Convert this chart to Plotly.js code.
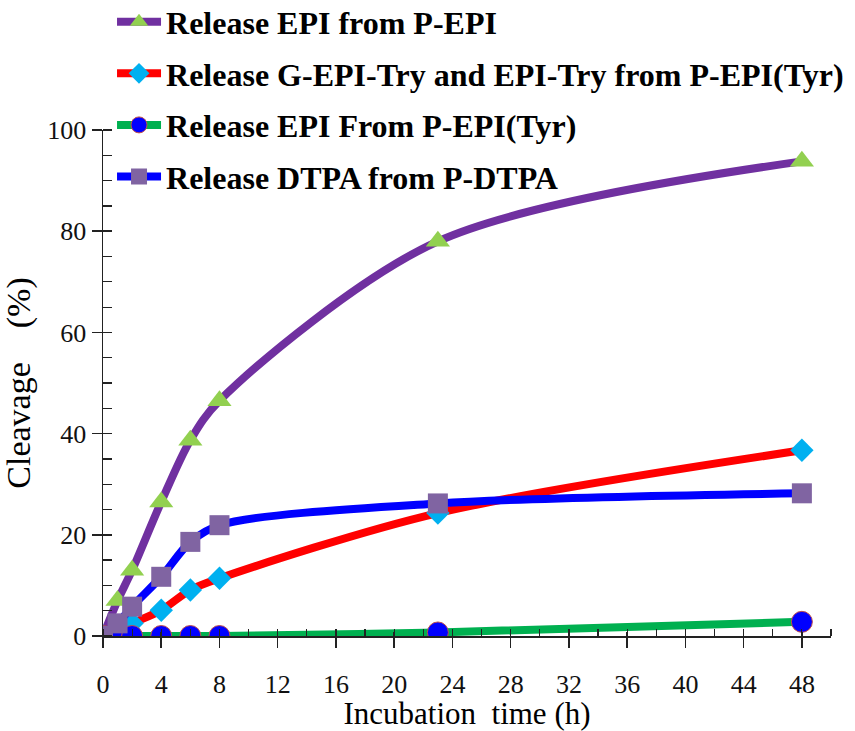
<!DOCTYPE html>
<html>
<head>
<meta charset="utf-8">
<script src="https://cdn.plot.ly/plotly-3.0.1.min.js"></script>
<style>html,body{margin:0;padding:0;background:#fff;}#chart{width:855px;height:731px;}</style>
</head>
<body>
<div id="chart"></div>
<script>
// Data
const timeH = [0, 1, 2, 4, 6, 8, 23, 48];
const epiFromPEpi = [0, 7, 13, 26.5, 38.7, 46.5, 78, 93.8];
const gEpiTryFromPEpiTyr = [0, 1, 2.5, 5.1, 9.1, 11.4, 24.3, 36.7];
const epiFromPEpiTyr = [0, 0, 0, 0, 0, 0, 0.7, 2.8];
const dtpaFromPDtpa = [0, 2.5, 5.8, 11.7, 18.6, 21.9, 26.2, 28.2];
const seriesNames = [
  "Release\u00a0EPI from P-EPI",
  "Release\u00a0G-EPI-Try and EPI-Try from P-EPI(Tyr)",
  "Release\u00a0EPI From P-EPI(Tyr)",
  "Release\u00a0DTPA from P-DTPA"
];
const xTickVals = [0, 4, 8, 12, 16, 20, 24, 28, 32, 36, 40, 44, 48];
const yTickVals = [0, 20, 40, 60, 80, 100];

const FONT = "Liberation Serif, Times New Roman, serif";

function tr(y, name, lineColor, sym, mColor, mSize, mLine, grp) {
  return {
    x: timeH, y: y, name: name, type: "scatter", mode: "lines+markers",
    line: {color: lineColor, width: 8, shape: "spline", smoothing: 0.9},
    marker: {symbol: sym, color: mColor, size: mSize, line: mLine},
    legendgroup: grp
  };
}

const data = [
  tr(epiFromPEpi, seriesNames[0], "#7030A0", "triangle-up", "#92D050", 21, {width: 0}, "g1"),
  tr(gEpiTryFromPEpiTyr, seriesNames[1], "#FF0000", "diamond", "#00B0F0", 18, {width: 0}, "g2"),
  tr(epiFromPEpiTyr, seriesNames[2], "#00B050", "circle", "#0000FF", 21, {width: 1, color: "#C0504D"}, "g3"),
  tr(dtpaFromPDtpa, seriesNames[3], "#0000FF", "square", "#8064A2", 20, {width: 0}, "g4"),
  {x: [], y: [], xaxis: "x2", yaxis: "y2", showlegend: false, hoverinfo: "skip"}
];

const layout = {
  width: 855, height: 731,
  margin: {l: 103, r: 24, t: 130, b: 95, autoexpand: false},
  paper_bgcolor: "#fff", plot_bgcolor: "rgba(0,0,0,0)",
  font: {family: FONT, color: "#111", size: 26},
  showlegend: true,
  legend: {
    x: 0.0124, y: 1.268, xanchor: "left", yanchor: "top",
    bgcolor: "rgba(0,0,0,0)", borderwidth: 0,
    font: {family: FONT, size: 32, color: "#000", weight: "bold"},
    itemwidth: 44, tracegroupgap: 7, traceorder: "grouped"
  },
  xaxis: {
    range: [0, 50], tickvals: xTickVals, ticktext: xTickVals.map(String),
    ticks: "outside", ticklen: 10, tickwidth: 1.5, tickcolor: "#222",
    minor: {dtick: 2, ticks: "inside", ticklen: 7, tickwidth: 1.2, tickcolor: "#222"},
    showline: true, linecolor: "#222", linewidth: 1.5, showgrid: false, zeroline: false,
    ticklabelstandoff: 14,
    title: {text: "Incubation\u00a0 time (h)", font: {family: FONT, size: 31, color: "#000"}, standoff: 8},
    anchor: "y"
  },
  yaxis: {
    range: [0, 100], tickvals: yTickVals, ticktext: yTickVals.map(String),
    ticks: "outside", ticklen: 10, tickwidth: 1.5, tickcolor: "#222",
    minor: {dtick: 5, ticks: "inside", ticklen: 9, tickwidth: 1.2, tickcolor: "#222"},
    showline: true, linecolor: "#222", linewidth: 1.5, showgrid: false, zeroline: false,
    title: {text: "Cleavage\u00a0\u00a0\u00a0\u00a0(%)", font: {family: FONT, size: 34, color: "#000"}, standoff: 9},
    anchor: "x"
  },
  xaxis2: {
    overlaying: "x", anchor: "y", side: "bottom", range: [0, 50], tickvals: xTickVals,
    ticks: "inside", ticklen: 4, tickwidth: 1.5, tickcolor: "#222",
    showticklabels: false, showline: false, showgrid: false, zeroline: false
  },
  yaxis2: {
    overlaying: "y", anchor: "x", side: "left", range: [0, 100], tickvals: yTickVals,
    ticks: "inside", ticklen: 9, tickwidth: 1.5, tickcolor: "#222",
    showticklabels: false, showline: false, showgrid: false, zeroline: false
  }
};

Plotly.newPlot("chart", data, layout, {staticPlot: true, displayModeBar: false});
</script>
</body>
</html>
